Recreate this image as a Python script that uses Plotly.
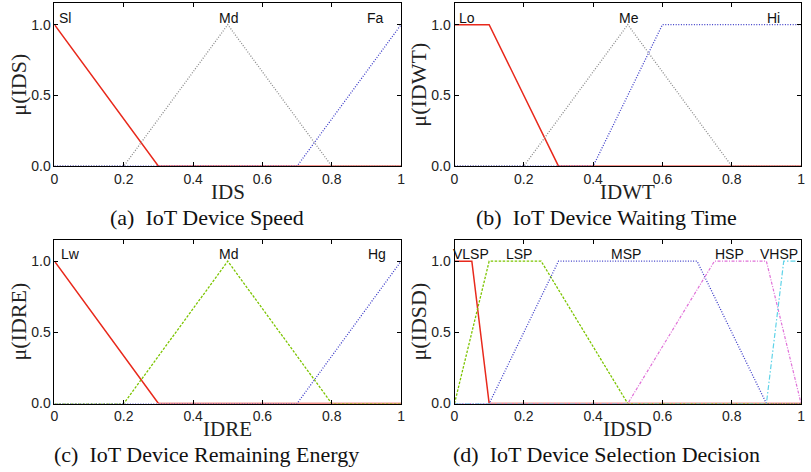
import plotly.graph_objects as go

# ---------------- data ----------------
x_ticks = [0, 0.2, 0.4, 0.6, 0.8, 1]
x_tick_labels = ["0", "0.2", "0.4", "0.6", "0.8", "1"]
y_ticks = [0, 0.5, 1.0]
y_tick_labels = ["0.0", "0.5", "1.0"]

# (a) IoT Device Speed
ids_sl_x = [0, 0.3, 1]
ids_sl_y = [1, 0, 0]
ids_md_x = [0, 0.2, 0.5, 0.8, 1]
ids_md_y = [0, 0, 1, 0, 0]
ids_fa_x = [0, 0.7, 1]
ids_fa_y = [0, 0, 1]

# (b) IoT Device Waiting Time
idwt_lo_x = [0, 0.1, 0.3, 1]
idwt_lo_y = [1, 1, 0, 0]
idwt_me_x = [0, 0.2, 0.5, 0.8, 1]
idwt_me_y = [0, 0, 1, 0, 0]
idwt_hi_x = [0, 0.4, 0.6, 1]
idwt_hi_y = [0, 0, 1, 1]

# (c) IoT Device Remaining Energy
idre_lw_x = [0, 0.3, 1]
idre_lw_y = [1, 0, 0]
idre_md_x = [0, 0.2, 0.5, 0.8, 1]
idre_md_y = [0, 0, 1, 0, 0]
idre_hg_x = [0, 0.7, 1]
idre_hg_y = [0, 0, 1]

# (d) IoT Device Selection Decision
idsd_vlsp_x = [0, 0.05, 0.1, 1]
idsd_vlsp_y = [1, 1, 0, 0]
idsd_lsp_x = [0, 0.1, 0.25, 0.5, 1]
idsd_lsp_y = [0, 1, 1, 0, 0]
idsd_msp_x = [0, 0.1, 0.3, 0.7, 0.9, 1]
idsd_msp_y = [0, 0, 1, 1, 0, 0]
idsd_hsp_x = [0, 0.5, 0.75, 0.9, 1]
idsd_hsp_y = [0, 0, 1, 1, 0]
idsd_vhsp_x = [0, 0.9, 0.95, 1]
idsd_vhsp_y = [0, 0, 1, 1]

labels_a = [("Sl", 0.03), ("Md", 0.503), ("Fa", 0.926)]
labels_b = [("Lo", 0.037), ("Me", 0.503), ("Hi", 0.92)]
labels_c = [("Lw", 0.045), ("Md", 0.503), ("Hg", 0.93)]
labels_d = [("VLSP", 0.049), ("LSP", 0.186), ("MSP", 0.494), ("HSP", 0.794), ("VHSP", 0.937)]
label_y = 1.05

x_titles = ["IDS", "IDWT", "IDRE", "IDSD"]
y_titles = ["μ(IDS)", "μ(IDWT)", "μ(IDRE)", "μ(IDSD)"]
captions = ["(a)  IoT Device Speed", "(b)  IoT Device Waiting Time",
            "(c)  IoT Device Remaining Energy", "(d)  IoT Device Selection Decision"]

# ---------------- styles ----------------
RED = "#e8291c"
GRAY = "#8c8c8c"
BLUE = "#3c3cc8"
GREEN = "#7cc400"
MAGENTA = "#e070d8"
CYAN = "#5fd3e8"
DOT = "1px,1.6px"
DASH = "2.5px,1.5px"
W, H = 811, 472
SANS = "Liberation Sans, Arial, sans-serif"
SERIF = "Liberation Serif, Times New Roman, serif"

fig = go.Figure()

def add(x, y, color, dash, width, ax):
    fig.add_trace(go.Scatter(x=x, y=y, mode="lines", xaxis="x" + ax, yaxis="y" + ax,
                             line=dict(color=color, dash=dash, width=width),
                             showlegend=False, hoverinfo="skip"))

add(ids_sl_x, ids_sl_y, RED, "solid", 1.5, "")
add(ids_md_x, ids_md_y, GRAY, DOT, 1.3, "")
add(ids_fa_x, ids_fa_y, BLUE, DOT, 1.3, "")

add(idwt_lo_x, idwt_lo_y, RED, "solid", 1.5, "2")
add(idwt_me_x, idwt_me_y, GRAY, DOT, 1.3, "2")
add(idwt_hi_x, idwt_hi_y, BLUE, DOT, 1.3, "2")

add(idre_lw_x, idre_lw_y, RED, "solid", 1.5, "3")
add(idre_md_x, idre_md_y, GREEN, DASH, 1.3, "3")
add(idre_hg_x, idre_hg_y, BLUE, DOT, 1.3, "3")

add(idsd_vlsp_x, idsd_vlsp_y, RED, "solid", 1.5, "4")
add(idsd_lsp_x, idsd_lsp_y, GREEN, DASH, 1.3, "4")
add(idsd_msp_x, idsd_msp_y, BLUE, DOT, 1.3, "4")
add(idsd_hsp_x, idsd_hsp_y, MAGENTA, "3px,1.5px,1px,1.5px", 1.2, "4")
add(idsd_vhsp_x, idsd_vhsp_y, CYAN, "5px,2px,1.5px,2px", 1.2, "4")

# pixel geometry of the four panels (left, right, top, bottom)
panels = [(51, 401, 3.5, 169), (455, 805, 3.5, 169),
          (51, 401, 244, 410.5), (455, 805, 244, 410.5)]

axis_common = dict(showline=True, mirror="ticks", linecolor="black", linewidth=1,
                   ticks="inside", ticklen=4, tickcolor="black", showgrid=False,
                   zeroline=False, tickfont=dict(family=SANS, size=14, color="#222"))

layout = dict(width=W, height=H, margin=dict(l=0, r=0, t=0, b=0),
              paper_bgcolor="white", plot_bgcolor="white", showlegend=False)

annotations = []
for i, (l, r, t, b) in enumerate(panels):
    sfx = "" if i == 0 else str(i + 1)
    xa = dict(axis_common, domain=[l / W, r / W], range=[0, 1],
              tickvals=x_ticks, ticktext=x_tick_labels,
              anchor="y" + sfx)
    ya = dict(axis_common, domain=[1 - b / H, 1 - t / H], range=[0, 1.15],
              tickvals=y_ticks, ticktext=y_tick_labels,
              anchor="x" + sfx)
    layout["xaxis" + sfx] = xa
    layout["yaxis" + sfx] = ya

    # x title
    annotations.append(dict(text=x_titles[i], x=(l + r) / 2 / W, y=1 - (b + 26) / H,
                            xref="paper", yref="paper", showarrow=False,
                            xanchor="center", yanchor="middle",
                            font=dict(family=SERIF, size=21, color="#222")))
    # y title
    annotations.append(dict(text=y_titles[i], x=(l - 36) / W, y=1 - (t + b) / 2 / H,
                            xref="paper", yref="paper", showarrow=False, textangle=-90,
                            xanchor="center", yanchor="middle",
                            font=dict(family=SERIF, size=22, color="#222")))
    # caption
    annotations.append(dict(text=captions[i], x=(l - 46 + r + 4) / 2 / W, y=1 - (b + 52) / H,
                            xref="paper", yref="paper", showarrow=False,
                            xanchor="center", yanchor="middle",
                            font=dict(family=SERIF, size=22, color="#111")))

for i, labs in enumerate([labels_a, labels_b, labels_c, labels_d]):
    sfx = "" if i == 0 else str(i + 1)
    for txt, xv in labs:
        annotations.append(dict(text=txt, x=xv, y=label_y, xref="x" + sfx, yref="y" + sfx,
                                showarrow=False, xanchor="center", yanchor="middle",
                                font=dict(family=SANS, size=14, color="#111")))

layout["annotations"] = annotations
fig.update_layout(**layout)
fig.write_html("out.html")
